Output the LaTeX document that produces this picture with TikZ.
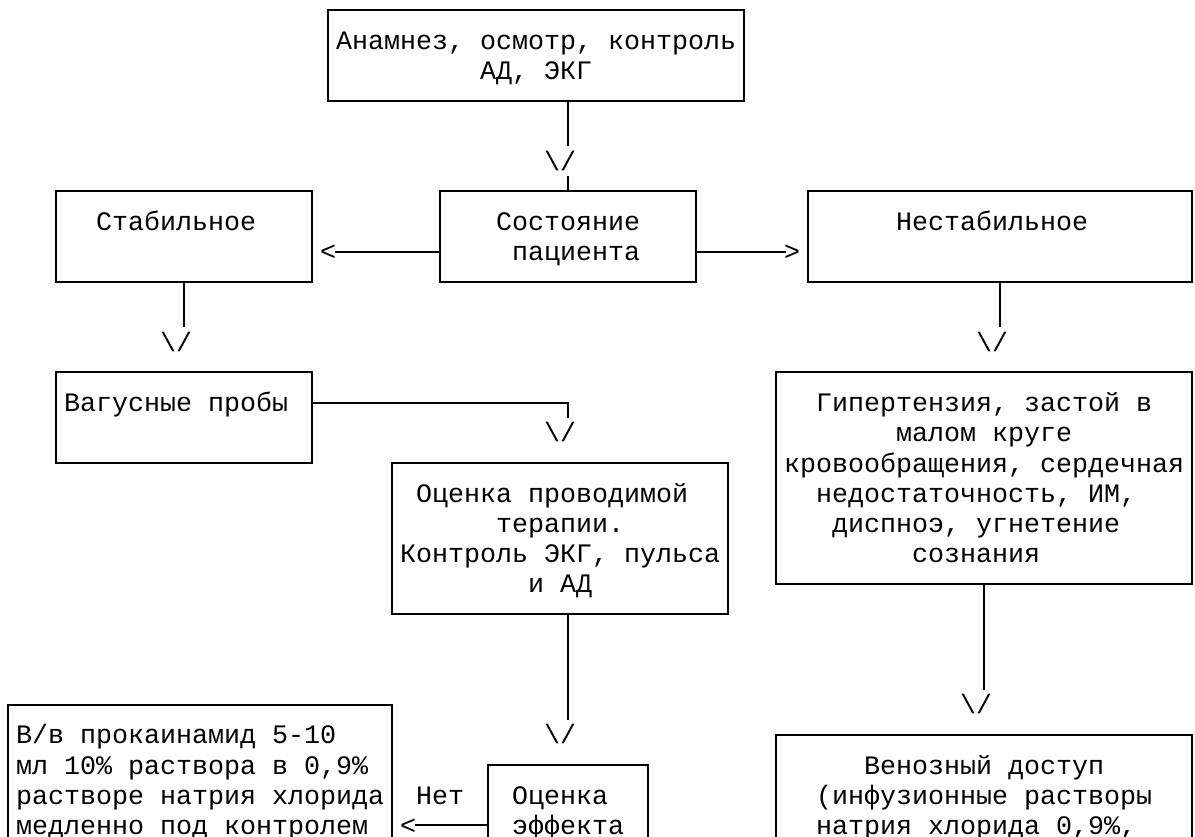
\documentclass[tikz,border=0pt]{standalone}
\usepackage{fontspec}
\newfontfamily\monofnt{Liberation Mono}
\begin{document}
\begin{tikzpicture}[x=12pt,y=-22.65pt,
  box/.style={draw,line width=1.4pt,inner sep=0pt,outer sep=0pt},
  txt/.style={anchor=base west,inner sep=0pt,outer sep=0pt,font=\monofnt\fontsize{20pt}{22pt}\selectfont},
  conn/.style={line width=1.4pt}]
\useasboundingbox (-0.5,-0.331) rectangle (74.1875,27.384);
\clip (-0.5,-0.331) rectangle (74.1875,27.384);
\newcommand\gridbox[5]{\node[box,minimum width={(#3-#2)*12pt},minimum height={(#5-#4)*22.65pt}] (#1) at ({(#2+#3)/2},{(#4+#5)/2}) {};}
% boxes: name, col1, col2, row1, row2
\gridbox{b1}{20}{46}{0}{3}
\gridbox{b2}{27}{43}{6}{9}
\gridbox{b3}{3}{19}{6}{9}
\gridbox{b4}{50}{74}{6}{9}
\gridbox{b5}{3}{19}{12}{15}
\gridbox{b6}{48}{74}{12}{19}
\gridbox{b7}{24}{45}{15}{20}
\gridbox{b8}{0}{24}{23}{31}
\gridbox{b9}{30}{40}{25}{31}
\gridbox{b10}{48}{74}{24}{31}
% texts
\node[txt] (t1) at (20.5,1.3) {Анамнез, осмотр, контроль};
\node[txt] (t2) at (29.5,2.3) {АД, ЭКГ};
\node[txt] (t3) at (5.5,7.3) {Стабильное};
\node[txt] (t4) at (30.5,7.3) {Состояние};
\node[txt] (t5) at (31.5,8.3) {пациента};
\node[txt] (t6) at (55.5,7.3) {Нестабильное};
\node[txt] (t7) at (3.5,13.3) {Вагусные пробы};
\node[txt] (t8) at (50.5,13.3) {Гипертензия, застой в};
\node[txt] (t9) at (55.5,14.3) {малом круге};
\node[txt] (t10) at (48.5,15.3) {кровообращения, сердечная};
\node[txt] (t11) at (50.5,16.3) {недостаточность, ИМ,};
\node[txt] (t12) at (51.5,17.3) {диспноэ, угнетение};
\node[txt] (t13) at (56.5,18.3) {сознания};
\node[txt] (t14) at (25.5,16.3) {Оценка проводимой};
\node[txt] (t15) at (30.5,17.3) {терапии.};
\node[txt] (t16) at (24.5,18.3) {Контроль ЭКГ, пульса};
\node[txt] (t17) at (32.5,19.3) {и АД};
\node[txt] (t18) at (0.5,24.3) {В/в прокаинамид 5-10};
\node[txt] (t19) at (0.5,25.3) {мл 10\% раствора в 0,9\%};
\node[txt] (t20) at (0.5,26.3) {растворе натрия хлорида};
\node[txt] (t21) at (0.5,27.3) {медленно под контролем};
\node[txt] (t22) at (25.5,26.3) {Нет};
\node[txt] (t23) at (31.5,26.3) {Оценка};
\node[txt] (t24) at (31.5,27.3) {эффекта};
\node[txt] (t25) at (53.5,25.3) {Венозный доступ};
\node[txt] (t26) at (50.5,26.3) {(инфузионные растворы};
\node[txt] (t27) at (50.5,27.3) {натрия хлорида 0,9\%,};
% arrow heads (characters)
\node[txt] (a1) at (33.5,5.3) {\textbackslash/};
\node[txt] (a2) at (19.5,8.3) {<};
\node[txt] (a3) at (48.5,8.3) {>};
\node[txt] (a4) at (9.5,11.3) {\textbackslash/};
\node[txt] (a5) at (60.5,11.3) {\textbackslash/};
\node[txt] (a6) at (33.5,14.3) {\textbackslash/};
\node[txt] (a7) at (33.5,24.3) {\textbackslash/};
\node[txt] (a8) at (59.5,23.3) {\textbackslash/};
\node[txt] (a9) at (24.5,27.3) {<};
% helper coordinates
\coordinate (x11) at (11,0);
\coordinate (x35) at (35,0);
\coordinate (x61) at (61,0);
\coordinate (x62) at (62,0);
\coordinate (y8) at (0,8);
\coordinate (y13) at (0,13);
\coordinate (y27) at (0,27);
\coordinate (e1) at (35,4.5);
\coordinate (e2) at (20.45,8);
\coordinate (e3) at (48.65,8);
\coordinate (e4) at (11,10.5);
\coordinate (e5) at (62,10.5);
\coordinate (e6) at (35,13.5);
\coordinate (e7) at (35,23.5);
\coordinate (e8) at (61,22.5);
\coordinate (e9) at (25.45,27);
\coordinate (s1) at (35,5.5);
% connectors
\draw[conn] (b1.south -| x35) -- (e1);
\draw[conn] (s1) -- (b2.north -| x35);
\draw[conn] (b2.west |- y8) -- (e2);
\draw[conn] (b2.east |- y8) -- (e3);
\draw[conn] (b3.south -| x11) -- (e4);
\draw[conn] (b4.south -| x62) -- (e5);
\draw[conn] (b5.east |- y13) -| (e6);
\draw[conn] (b7.south -| x35) -- (e7);
\draw[conn] (b6.south -| x61) -- (e8);
\draw[conn] (b9.west |- y27) -- (e9);
\end{tikzpicture}
\end{document}
